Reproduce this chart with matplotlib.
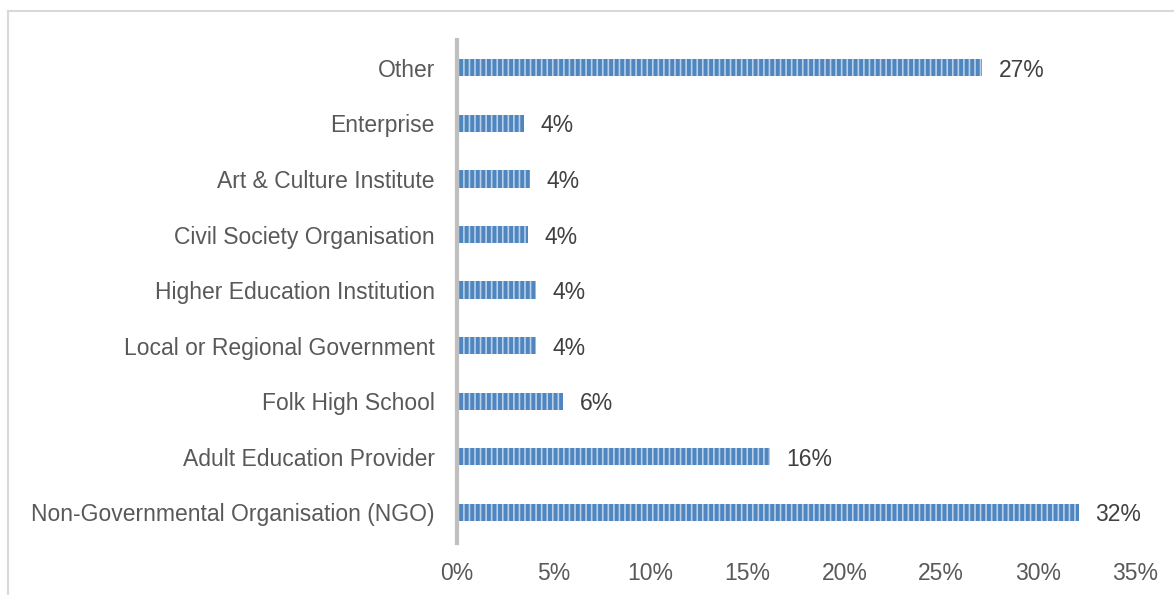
import numpy as np
import matplotlib.pyplot as plt
from matplotlib.lines import Line2D
from matplotlib.ticker import FuncFormatter

plt.rcParams['font.family'] = ['Liberation Sans', 'DejaVu Sans']
plt.rcParams['hatch.linewidth'] = 1.2

categories = ['Non-Governmental Organisation (NGO)', 'Adult Education Provider',
              'Folk High School', 'Local or Regional Government',
              'Higher Education Institution', 'Civil Society Organisation',
              'Art & Culture Institute', 'Enterprise', 'Other']
values = [32.1, 16.15, 5.47, 4.08, 4.08, 3.66, 3.77, 3.46, 27.1]
labels = ['32%', '16%', '6%', '4%', '4%', '4%', '4%', '4%', '27%']
xticks = [0, 5, 10, 15, 20, 25, 30, 35]

fig = plt.figure(figsize=(11.74, 5.95), dpi=100)
ax = fig.add_axes([457/1174, 1-543/595, (1135-457)/1174, (543-40)/595])

y = np.arange(len(categories))
ax.barh(y, values, height=0.31, color='#4f86c0', edgecolor='#b9d0e8',
        linewidth=0, hatch='|||')

for yi, v, lab in zip(y, values, labels):
    ax.text(v + 0.85, yi, lab, va='center_baseline', ha='left', fontsize=16.5, color='#404040')

ax.set_xlim(0, 35)
ax.set_ylim(-0.55, 8.5)
ax.set_yticks(y)
ax.set_yticklabels(categories, fontsize=16.5, color='#595959')
ax.set_xticks(xticks)
ax.xaxis.set_major_formatter(FuncFormatter(lambda v, p: '%d%%' % v))
for t in ax.get_xticklabels():
    t.set_fontsize(16.5)
    t.set_color('#595959')
ax.tick_params(axis='both', length=0)
ax.tick_params(axis='x', pad=14)
ax.tick_params(axis='y', pad=16)

for s in ['top', 'right', 'bottom']:
    ax.spines[s].set_visible(False)
ax.spines['left'].set_color('#bfbfbf')
ax.spines['left'].set_linewidth(3)

# chart border
fig.add_artist(Line2D([8/1174, 8/1174], [0, 1-11/595], color='#d9d9d9', lw=1.5))
fig.add_artist(Line2D([8/1174, 1], [1-11/595, 1-11/595], color='#d9d9d9', lw=1.5))

fig.savefig('out.png', dpi=100)
